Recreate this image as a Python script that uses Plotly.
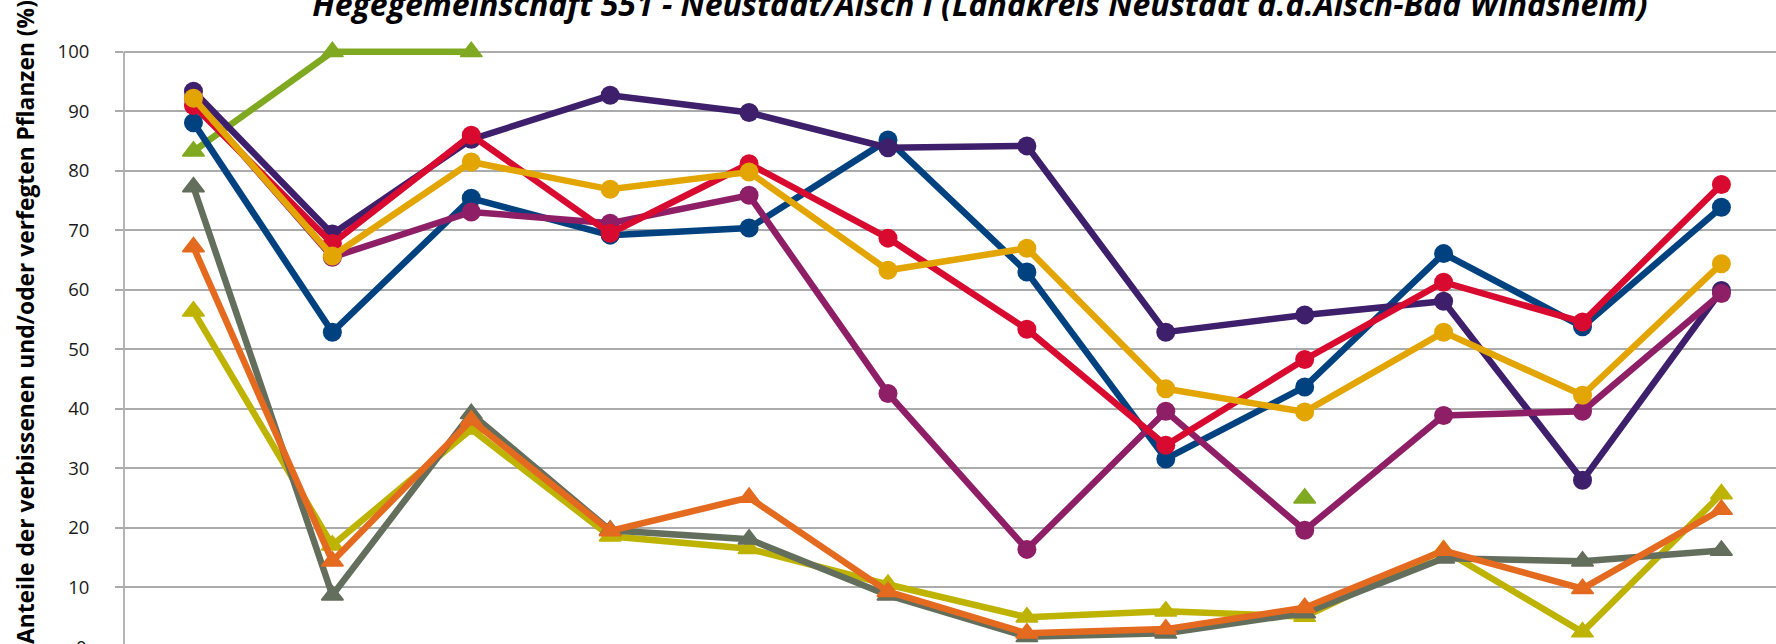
import plotly.graph_objects as go

categories = list(range(12))
tick_values = [10, 20, 30, 40, 50, 60, 70, 80, 90, 100]

# circle series (drawn bottom to top)
blue = [88.1, 52.9, 75.4, 69.2, 70.4, 85.2, 63.0, 31.6, 43.7, 66.1, 53.8, 73.9]
dark_purple = [93.4, 69.4, 85.3, 92.7, 89.8, 83.9, 84.2, 52.9, 55.8, 58.1, 28.0, 59.9]
magenta = [92.2, 65.5, 73.1, 71.2, 75.9, 42.6, 16.4, 39.6, 19.6, 38.9, 39.6, 59.4]
red = [91.0, 67.8, 86.0, 69.5, 81.2, 68.7, 53.4, 33.9, 48.3, 61.3, 54.6, 77.7]
yellow = [92.2, 65.7, 81.5, 76.9, 79.8, 63.3, 67.0, 43.4, 39.5, 52.9, 42.3, 64.4]

# triangle series
olive = [56.4, 17.1, 36.6, 18.6, 16.5, 10.5, 5.0, 6.0, 5.1, 16.3, 2.5, 25.7]
gray = [77.3, 8.7, 39.2, 19.6, 18.1, 8.7, 1.7, 2.3, 5.7, 14.9, 14.4, 16.2]
orange = [67.2, 14.4, 38.1, 19.5, 25.1, 9.3, 2.3, 3.0, 6.6, 16.2, 9.8, 23.1]
green = [83.3, 100, 100, None, None, None, None, None, 25.0, None, None, None]

title_text = "Hegegemeinschaft 551 - Neustadt/Aisch I (Landkreis Neustadt a.d.Aisch-Bad Windsheim)"
yaxis_title = "Anteile der verbissenen und/oder verfegten Pflanzen (%)"

W, H = 1776, 644
ML, MT = 124, 34
Y_RANGE = [0.5, 103]
X_RANGE = [-0.5, 11.393]

fig = go.Figure()

tri_series = [(olive, "#BDB300"), (gray, "#646E5C"), (orange, "#E46A1F"), (green, "#80A922")]
circ_series = [(blue, "#00427F"), (dark_purple, "#3E1F6B"), (magenta, "#8E1F67"),
               (red, "#D90A30"), (yellow, "#E2A502")]

for vals, col in tri_series:
    fig.add_trace(go.Scatter(
        x=categories, y=vals, mode="lines+markers", cliponaxis=False,
        line=dict(color=col, width=6.5), connectgaps=False,
        marker=dict(symbol="triangle-up", size=19, color=col, line=dict(color=col, width=1.5)),
        showlegend=False, hoverinfo="skip"))

for vals, col in circ_series:
    fig.add_trace(go.Scatter(
        x=categories, y=vals, mode="lines+markers", cliponaxis=False,
        line=dict(color=col, width=6.5),
        marker=dict(symbol="circle", size=19, color=col),
        showlegend=False, hoverinfo="skip"))

fig.update_layout(
    width=W, height=H,
    margin=dict(l=ML, r=0, t=MT, b=0, autoexpand=False),
    paper_bgcolor="white", plot_bgcolor="white",
    font=dict(family="Open Sans", color="#1a1a1a"),
    title=dict(text=title_text, x=980 / W, xanchor="center", xref="container",
               yref="container", y=1 - 15.5 / H, yanchor="bottom",
               font=dict(family="Open Sans", size=32, weight="bold", style="italic", color="black")),
    xaxis=dict(range=X_RANGE, showgrid=False, zeroline=False, showticklabels=False,
               ticks="", showline=False),
    yaxis=dict(range=Y_RANGE, tickvals=tick_values, showgrid=True, gridcolor="#ABABAB",
               gridwidth=1.5, zeroline=False, showline=False, ticks="outside", ticklen=8,
               tickcolor="#ABABAB", tickwidth=1.5, ticklabelstandoff=22,
               tickfont=dict(family="Open Sans", size=18.5, color="#1a1a1a")),
    shapes=[dict(type="line", xref="paper", yref="y", x0=0, x1=0, y0=Y_RANGE[0], y1=100,
                 line=dict(color="#8C8C8C", width=1.3), layer="below")],
)

plot_h = H - MT
fig.add_annotation(text=yaxis_title, textangle=-90, xref="paper", yref="paper",
                   x=0, xshift=25 - ML, xanchor="center",
                   y=(H - 322) / plot_h, yanchor="middle", showarrow=False,
                   font=dict(family="Open Sans", size=22.8, weight="bold", color="black"))
# partially visible "0" tick label at the bottom edge
fig.add_annotation(text="0", xref="paper", yref="paper", x=0, xshift=-35, xanchor="right",
                   y=(0 - Y_RANGE[0]) / (Y_RANGE[1] - Y_RANGE[0]), yanchor="middle",
                   showarrow=False, font=dict(family="Open Sans", size=18.5, color="#1a1a1a"))

fig.write_html("out.html", config={"displayModeBar": False},
               post_script="document.body.style.margin='0';document.body.style.overflow='hidden';")
